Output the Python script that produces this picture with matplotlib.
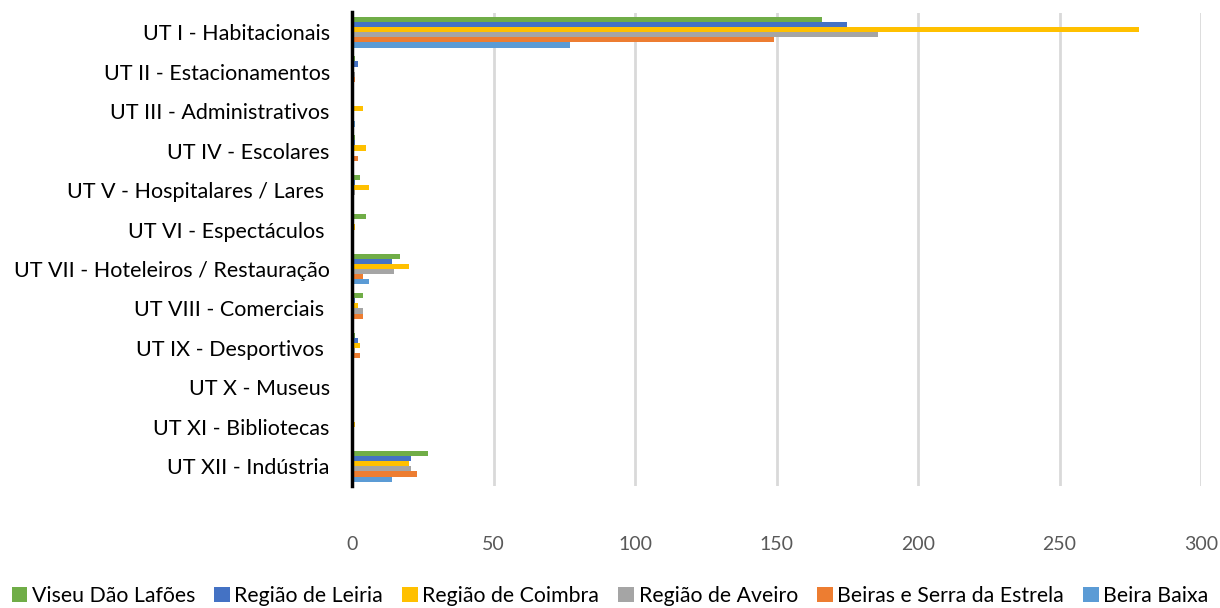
import matplotlib
matplotlib.use("Agg")
import matplotlib.pyplot as plt
import numpy as np

categories = [
    "UT I - Habitacionais",
    "UT II - Estacionamentos",
    "UT III - Administrativos",
    "UT IV - Escolares",
    "UT V - Hospitalares / Lares ",
    "UT VI - Espectáculos ",
    "UT VII - Hoteleiros / Restauração",
    "UT VIII - Comerciais ",
    "UT IX - Desportivos ",
    "UT X - Museus",
    "UT XI - Bibliotecas",
    "UT XII - Indústria",
]

series_names = [
    "Viseu Dão Lafões",
    "Região de Leiria",
    "Região de Coimbra",
    "Região de Aveiro",
    "Beiras e Serra da Estrela",
    "Beira Baixa",
]

viseu   = [166, 1, 0, 1, 3, 5, 17, 4, 1, 0, 0, 27]
leiria  = [175, 2, 0, 1, 1, 0, 14, 1, 2, 0, 0, 21]
coimbra = [278, 0, 4, 5, 6, 1, 20, 2, 3, 0, 1, 20]
aveiro  = [186, 1, 0, 0, 1, 0, 15, 4, 1, 0, 0, 21]
beiras  = [149, 1, 0, 2, 0, 0, 4, 4, 3, 0, 0, 23]
baixa   = [77, 0, 1, 0, 0, 0, 6, 0, 0, 0, 0, 14]

series = [viseu, leiria, coimbra, aveiro, beiras, baixa]
colors = ["#70AD47", "#4472C4", "#FFC000", "#A5A5A5", "#ED7D31", "#5B9BD5"]

xticks = [0, 50, 100, 150, 200, 250, 300]

plt.rcParams['font.family'] = ['Lato', 'DejaVu Sans']

fig = plt.figure(figsize=(12.2, 6.08), dpi=100)
ax = fig.add_axes([352/1220, 1 - 486/608, (1201 - 352)/1220, (486 - 12.5)/608])

n = len(series)
group = 0.78
bh = group / n
y = np.arange(len(categories))
for i, (vals, c, name) in enumerate(zip(series, colors, series_names)):
    offs = -group/2 + bh*(i + 0.5)
    ax.barh(y + offs, vals, height=bh, color=c, label=name, zorder=3)

ax.set_ylim(len(categories) - 0.5, -0.5)
ax.set_xlim(0, 300)
ax.set_xticks(xticks)
ax.set_yticks(y)
ax.set_yticklabels(categories, fontsize=15.5)
ax.tick_params(axis='x', length=0, pad=36, labelsize=14)
ax.tick_params(axis='y', length=0, pad=16, labelcolor='black')
for lbl in ax.get_xticklabels():
    lbl.set_color('#595959')
ax.grid(axis='x', color='#D9D9D9', linewidth=2, zorder=0)
for s in ['top', 'right', 'bottom']:
    ax.spines[s].set_visible(False)
ax.spines['left'].set_linewidth(2.5)
ax.spines['left'].set_color('black')
ax.spines['left'].set_zorder(5)

handles, labels = ax.get_legend_handles_labels()
fig.legend(handles, labels, loc='center', bbox_to_anchor=(0.5, 1 - 596/608), ncol=6,
           frameon=False, fontsize=15.3, handlelength=0.75, handleheight=0.75,
           handletextpad=0.2, columnspacing=0.9)

fig.savefig("out.png", dpi=100)
